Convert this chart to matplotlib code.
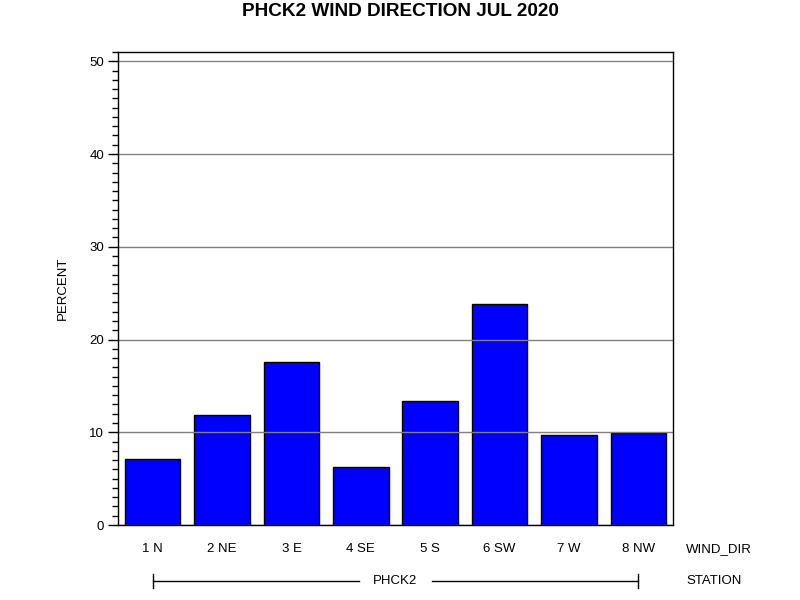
import matplotlib
matplotlib.use('Agg')
import matplotlib.pyplot as plt
from matplotlib.ticker import MultipleLocator

plt.rcParams['font.family'] = ['Liberation Sans', 'DejaVu Sans']

# data
wind_dirs = ['1 N', '2 NE', '3 E', '4 SE', '5 S', '6 SW', '7 W', '8 NW']
percent = [7.1, 11.9, 17.6, 6.3, 13.4, 23.8, 9.7, 9.95]
station = 'PHCK2'

fig = plt.figure(figsize=(8, 6), dpi=100)
ax = fig.add_axes([118/800, 75/600, 555/800, 473/600])

x = list(range(len(wind_dirs)))
ax.bar(x, percent, width=0.8, color='#0000FF', edgecolor='black', linewidth=1, zorder=2)

ax.set_xlim(-0.5, len(wind_dirs) - 0.5)
ax.set_ylim(0, 51)
ax.yaxis.set_major_locator(MultipleLocator(10))
ax.yaxis.set_minor_locator(MultipleLocator(1))
ax.grid(axis='y', which='major', color='gray', linewidth=1, zorder=3)
ax.set_axisbelow(False)
ax.tick_params(axis='y', which='major', length=7, width=1, labelsize=9.5, pad=3)
ax.tick_params(axis='y', which='minor', length=4, width=1)
ax.set_xticks(x)
ax.set_xticklabels(wind_dirs, fontsize=9.5)
ax.tick_params(axis='x', length=0, pad=13)
for s in ax.spines.values():
    s.set_linewidth(1)
    s.set_zorder(4)

ax.set_ylabel('PERCENT', fontsize=9.5, labelpad=15)

fig.text(400/800, 1 - 11/600, 'PHCK2 WIND DIRECTION JUL 2020', ha='center', va='center',
         fontsize=13.7, fontweight='bold')
fig.text(686/800, 1 - 549/600, 'WIND_DIR', ha='left', va='center', fontsize=9.5)
fig.text(686/800, 1 - 581/600, 'STATION', ha='left', va='center', fontsize=9.5)

# station bracket under the groups
trans = ax.get_xaxis_transform()
yb = -56/473
ax.plot([x[0], 2.98], [yb, yb], color='black', linewidth=1, transform=trans, clip_on=False)
ax.plot([4.02, x[-1]], [yb, yb], color='black', linewidth=1, transform=trans, clip_on=False)
for xe in (x[0], x[-1]):
    ax.plot([xe, xe], [yb - 7/473, yb + 7/473], color='black', linewidth=1,
            transform=trans, clip_on=False)
ax.text(3.5, yb, station, ha='center', va='center', fontsize=9.5, transform=trans)

fig.savefig('out.png', dpi=100)
